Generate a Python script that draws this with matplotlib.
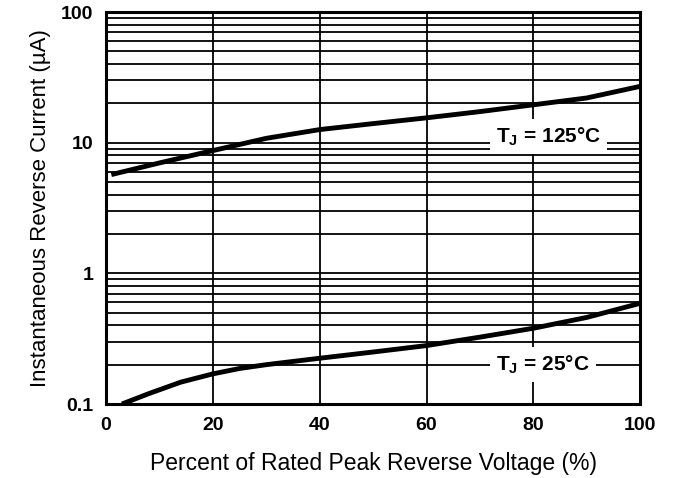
import matplotlib
matplotlib.use("Agg")
import matplotlib.pyplot as plt
from matplotlib.ticker import FixedLocator, NullFormatter

plt.rcParams["font.family"] = ["Liberation Sans", "DejaVu Sans"]

voltage_125 = [1, 10, 20, 30, 40, 50, 60, 70, 80, 90, 100]
current_125 = [5.7, 7.0, 8.7, 10.8, 12.6, 14.0, 15.5, 17.3, 19.5, 22.0, 27.0]

voltage_25 = [3, 8, 14, 20, 25, 30, 40, 50, 60, 70, 80, 90, 100]
current_25 = [0.10, 0.12, 0.147, 0.17, 0.187, 0.20, 0.224, 0.25, 0.28, 0.325, 0.38, 0.46, 0.59]

x_ticks = [0, 20, 40, 60, 80, 100]
y_ticks = [0.1, 1, 10, 100]
y_tick_labels = ["0.1", "1", "10", "100"]

fig = plt.figure(figsize=(6.78, 4.78), dpi=100)
ax = fig.add_axes([0.1563, 0.1548, 0.788, 0.820])

ax.set_yscale("log")
ax.set_xlim(0, 100)
ax.set_ylim(0.1, 100)

ax.set_xticks(x_ticks)
ax.set_yticks(y_ticks)
ax.set_yticklabels(y_tick_labels)
minor = [m * 10.0 ** d for d in (-1, 0, 1) for m in range(2, 10)]
ax.yaxis.set_minor_locator(FixedLocator(minor))
ax.yaxis.set_minor_formatter(NullFormatter())

ax.grid(True, which="both", axis="y", color="black", linewidth=1.3)
ax.grid(True, which="major", axis="x", color="black", linewidth=1.3)
ax.tick_params(which="both", length=0, pad=9, labelsize=14)
for lab in ax.get_xticklabels() + ax.get_yticklabels():
    lab.set_fontweight("bold")
for sp in ax.spines.values():
    sp.set_linewidth(2.2)

ax.plot(voltage_125, current_125, color="black", linewidth=3.5, solid_capstyle="butt", zorder=5)
ax.plot(voltage_25, current_25, color="black", linewidth=3.5, solid_capstyle="butt", zorder=5)

box = dict(boxstyle="square,pad=0.3", facecolor="white", edgecolor="none")
ax.text(82.8, 11.1, r"T$_\mathregular{J}$ = 125°C", fontsize=15, fontweight="bold",
        ha="center", va="center", bbox=box, zorder=4)
ax.text(81.8, 0.2, r"T$_\mathregular{J}$ = 25°C", fontsize=15, fontweight="bold",
        ha="center", va="center", bbox=box, zorder=4)

ax.set_xlabel("Percent of Rated Peak Reverse Voltage (%)", fontsize=16.5, labelpad=13)
ax.set_ylabel("Instantaneous Reverse Current (µA)", fontsize=16, labelpad=7)

fig.savefig("out.png", dpi=100)
